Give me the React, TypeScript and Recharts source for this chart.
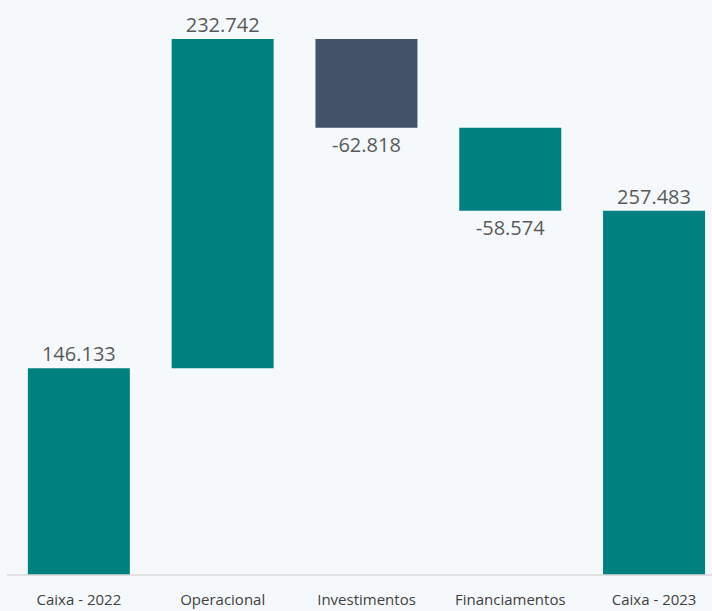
import { Bar, BarChart, Cell, LabelList, XAxis, YAxis } from "recharts";

const categories = ["Caixa - 2022", "Operacional", "Investimentos", "Financiamentos", "Caixa - 2023"];
const changes = [146133, 232742, -62818, -58574, 257483];
const isTotal = [true, false, false, false, true];
const valueLabels = ["146.133", "232.742", "-62.818", "-58.574", "257.483"];

const TEAL = "#00807E";
const SLATE = "#435169";

// running totals -> invisible base + visible step
let running = 0;
const data = categories.map((name, i) => {
    const v = changes[i];
    let base: number;
    if (isTotal[i]) {
        base = 0;
        running = v;
    } else {
        base = v >= 0 ? running : running + v;
        running = running + v;
    }
    return { name, base, delta: Math.abs(v), neg: v < 0, label: valueLabels[i] };
});

const ValueLabel = (props: any) => {
    const { x, y, width, height, index } = props;
    const d = data[index];
    const cx = x + width / 2;
    if (d.neg) {
        return (
            <text x={cx} y={y + height + 24} textAnchor="middle" fill="#595959" fontSize={20}
                fontFamily="'Open Sans', sans-serif">
                {d.label}
            </text>
        );
    }
    return (
        <text x={cx} y={y - 7} textAnchor="middle" fill="#595959" fontSize={20}
            fontFamily="'Open Sans', sans-serif">
            {d.label}
        </text>
    );
};

export default function App() {
    return (
        <div style={{
            position: "fixed", top: 0, left: 0, width: 712, height: 611,
            overflow: "hidden", background: "#F6F9FC",
        }}>
            <BarChart
                width={730}
                height={616}
                data={data}
                margin={{ top: 9, right: 4, left: 7, bottom: 0 }}
                barCategoryGap="14.5%"
            >
                <XAxis
                    dataKey="name"
                    tickLine={false}
                    axisLine={{ stroke: "#D9D9D9", strokeWidth: 1.5 }}
                    tick={{ fill: "#404040", fontSize: 15, fontFamily: "'Open Sans', sans-serif" }}
                    tickMargin={13}
                    height={41}
                    interval={0}
                />
                <YAxis hide domain={[0, 400000]} />
                <Bar dataKey="base" stackId="w" fill="transparent" isAnimationActive={false} />
                <Bar dataKey="delta" stackId="w" isAnimationActive={false}>
                    {data.map((d, i) => (
                        <Cell key={i} fill={d.neg && i === 2 ? SLATE : TEAL} />
                    ))}
                    <LabelList dataKey="delta" content={ValueLabel} />
                </Bar>
            </BarChart>
        </div>
    );
}
